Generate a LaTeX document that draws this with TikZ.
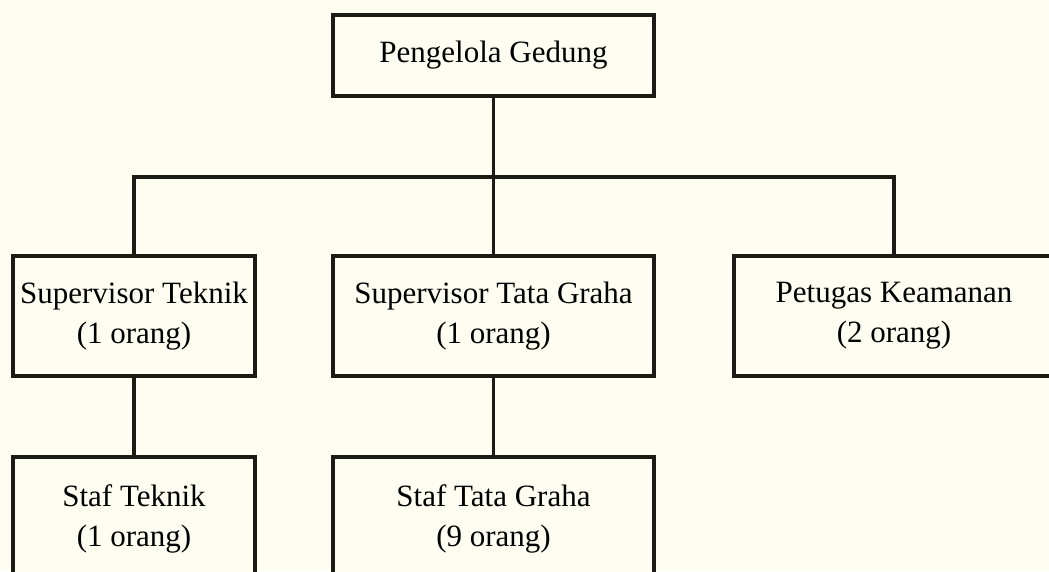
\documentclass[tikz,border=0pt]{standalone}
\usepackage{fontspec}
\setmainfont{Liberation Serif}
\usepackage{tikz}
\usetikzlibrary{positioning}
\tikzset{every picture/.style={line width=2.4pt}}
\definecolor{paper}{RGB}{253,253,241}
\definecolor{ink}{RGB}{28,28,22}

\begin{document}
\begin{tikzpicture}[x=0.75pt,y=0.75pt,yscale=-1,xscale=1,every node/.style={unit}]

     \tikzstyle{unit} = [draw = ink,
						fill = paper,
						minimum width = 240.75pt,
						minimum height = 90pt,
						inner sep = 0pt,
						align = center,
						font = \fontsize{23.25pt}{30pt}\selectfont
						]
     \tikzstyle{narrow} = [minimum width = 181.5pt]
     \tikzstyle{link} = [draw = ink]

\path[fill=paper, use as bounding box] (0,0) rectangle (1049,571);

\node [minimum height = 60.75pt] (pg) at (493.5,55.5) {Pengelola Gedung};
\node [on grid, below = 195.4pt of pg] (spt) {Supervisor Tata Graha\\(1 orang)};
\node [narrow, on grid, left = 269.6pt of spt] (spk) {Supervisor Teknik\\(1 orang)};
\node [on grid, right = 300.4pt of spt, minimum width = 240pt] (ptg) {Petugas Keamanan\\(2 orang)};
\node [on grid, below = 152.25pt of spt, minimum height = 93pt] (stt) {Staf Tata Graha\\(9 orang)};
\node [narrow, on grid, below = 152.25pt of spk, minimum height = 93pt] (stk) {Staf Teknik\\(1 orang)};

\coordinate (bus) at (493.5,177);
\draw[link] (pg) -- (spt);
\draw[link] (spk.north) -- (spk.north |- bus) -- (ptg.north |- bus) -- (ptg.north);
\draw[link] (spk) -- (stk);
\draw[link] (spt) -- (stt);

\end{tikzpicture}
\end{document}
